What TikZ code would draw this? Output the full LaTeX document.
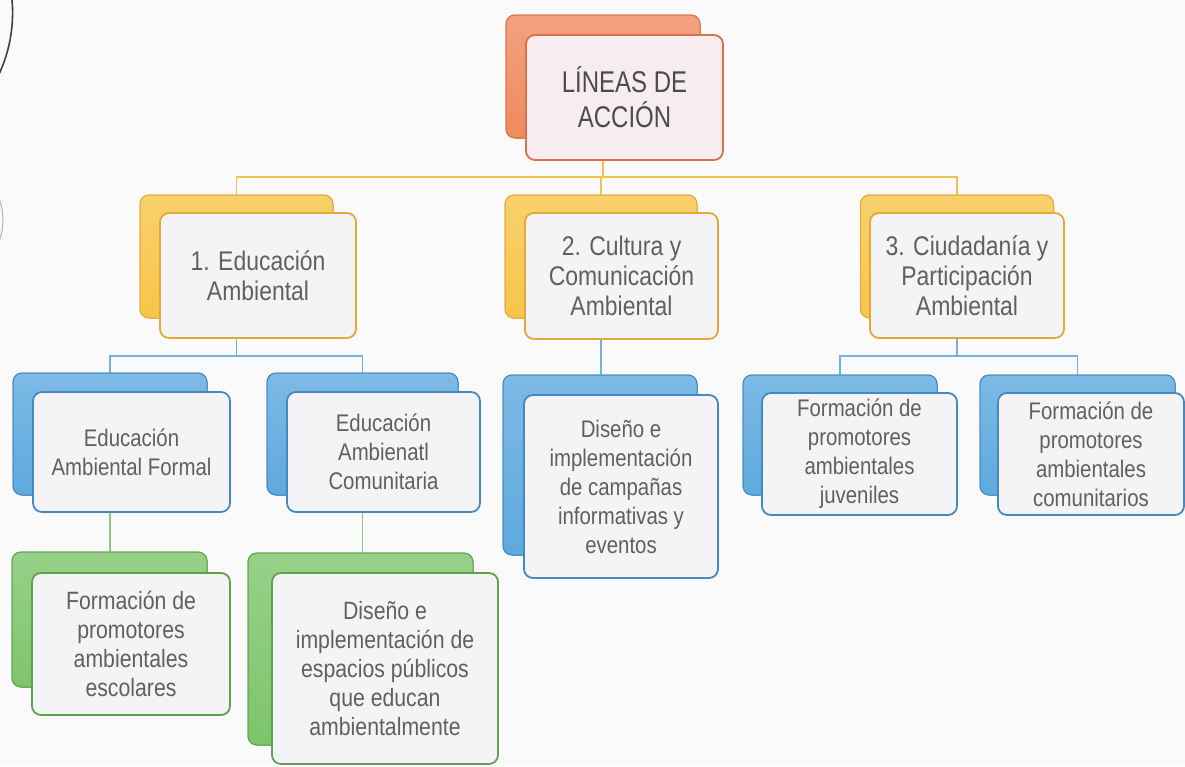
\documentclass[tikz,border=0pt]{standalone}
\usepackage{fontspec}
\setmainfont[FakeStretch=0.85]{Liberation Sans}
\definecolor{bgc}{HTML}{FAFAFA}
\definecolor{orB}{HTML}{F08A5D}
\definecolor{orD}{HTML}{D9714A}
\definecolor{yeB}{HTML}{F7C548}
\definecolor{yeD}{HTML}{E3A83A}
\definecolor{blB}{HTML}{5DA9DE}
\definecolor{blD}{HTML}{4589C0}
\definecolor{grB}{HTML}{7DC56B}
\definecolor{grD}{HTML}{5EA24E}
\definecolor{ffill}{HTML}{F4F4F7}
\definecolor{pfill}{HTML}{F7EDF0}
\definecolor{txt}{HTML}{606060}
\definecolor{conY}{HTML}{F3C352}
\definecolor{conB}{HTML}{72B3E0}
\definecolor{conG}{HTML}{8CC97A}
\tikzset{
  backbox/.style={rectangle, rounded corners=9pt, top color=#1B!80!white, bottom color=#1B, draw=#1D, line width=1pt, inner sep=0pt},
  frontbox/.style={rectangle, rounded corners=9pt, fill=ffill, draw=#1D, line width=1.8pt, inner sep=0pt, align=center, text=txt},
  sz/.style 2 args={minimum width=#1pt, minimum height=#2pt},
  conn/.style={draw=#1, line width=1.8pt},
  ttop/.style={font=\fontsize{30}{35}\selectfont\addfontfeature{FakeStretch=0.8}},
  tlv2/.style={font=\fontsize{27}{30}\selectfont},
  tlv3/.style={font=\fontsize{24}{29}\selectfont},
  tlv4/.style={font=\fontsize{25}{29}\selectfont},
}
\begin{document}
\begin{tikzpicture}[x=1pt,y=-1pt]
\fill[bgc] (0,0) rectangle (1185,766);
\useasboundingbox (0,0) rectangle (1185,766);
% scan marks at the left edge
\draw[black!75, line width=1.6pt] (-133,12.8) ++(-7:145.6) arc[start angle=-7, end angle=28, radius=145.6];
\draw[black!30, line width=1pt] (-57,220) ++(-25:60) arc[start angle=-25, end angle=25, radius=60];

% back boxes (placeholders for anchors)
\node[backbox=or, sz={194}{123}] (topb) at (603,76.5) {};
\node[backbox=ye, sz={193}{123}] (e1b) at (236.5,256.5) {};
\node[backbox=ye, sz={192}{123}] (e2b) at (601,256.5) {};
\node[backbox=ye, sz={193}{123}] (e3b) at (957,256.5) {};
\node[backbox=bl, sz={194}{122}] (f1b) at (110,434) {};
\node[backbox=bl, sz={191}{122}] (f2b) at (362.5,434) {};
\node[backbox=bl, sz={194}{180}] (c1b) at (600,465) {};
\node[backbox=bl, sz={194}{120}] (p1b) at (840,435) {};
\node[backbox=bl, sz={195}{120}] (p2b) at (1077.5,435) {};
\node[backbox=gr, sz={195}{135}] (g1b) at (109.5,619.5) {};
\node[backbox=gr, sz={225}{192}] (g2b) at (360.5,649) {};

% connectors
\coordinate (j1) at (0,177);
\coordinate (j2) at (0,356);
\draw[conn=conY] (topb.south) -- (topb.south |- j1);
\draw[conn=conY] (e1b.north) |- (e3b.north |- j1) -- (e3b.north);
\draw[conn=conY] (e2b.north) -- (e2b.north |- j1);
\draw[conn=conB] (e1b.south) -- (e1b.south |- j2);
\draw[conn=conB] (f1b.north) |- (f2b.north |- j2) -- (f2b.north);
\draw[conn=conB] (e2b.south) -- (e2b.south |- c1b.north);
\draw[conn=conB] (e3b.south) -- (e3b.south |- j2);
\draw[conn=conB] (p1b.north) |- (p2b.north |- j2) -- (p2b.north);
\draw[conn=conG] (f1b.south) -- (f1b.south |- g1b.north);
\draw[conn=conG] (f2b.south) -- (f2b.south |- g2b.north);

% back boxes drawn over the connectors
\node[backbox=or, sz={194}{123}] at (topb) {};
\node[backbox=ye, sz={193}{123}] at (e1b) {};
\node[backbox=ye, sz={192}{123}] at (e2b) {};
\node[backbox=ye, sz={193}{123}] at (e3b) {};
\node[backbox=bl, sz={194}{122}] at (f1b) {};
\node[backbox=bl, sz={191}{122}] at (f2b) {};
\node[backbox=bl, sz={194}{180}] at (c1b) {};
\node[backbox=bl, sz={194}{120}] at (p1b) {};
\node[backbox=bl, sz={195}{120}] at (p2b) {};
\node[backbox=gr, sz={195}{135}] at (g1b) {};
\node[backbox=gr, sz={225}{192}] at (g2b) {};

% front boxes
\node[frontbox=or, fill=pfill, sz={197}{125}, ttop, text=black!70] (topf) at (624.5,97.5) {LÍNEAS DE\\ACCIÓN};
\node[frontbox=ye, sz={196}{125}, tlv2] (e1f) at (258,275.5) {1. Educación\\Ambiental};
\node[frontbox=ye, sz={193}{126}, tlv2] (e2f) at (621.5,276) {2. Cultura y\\Comunicación\\Ambiental};
\node[frontbox=ye, sz={194}{125}, tlv2] (e3f) at (967,275.5) {3. Ciudadanía y\\Participación\\Ambiental};
\node[frontbox=bl, sz={197}{120}, tlv3] (f1f) at (131.5,452) {Educación\\Ambiental Formal};
\node[frontbox=bl, sz={193}{120}, tlv3] (f2f) at (383.5,452) {Educación\\Ambienatl\\Comunitaria};
\node[frontbox=bl, sz={194}{183}, tlv3] (c1f) at (621,486.5) {Diseño e\\implementación\\de campañas\\informativas y\\eventos};
\node[frontbox=bl, sz={195}{122}, tlv3] (p1f) at (859.5,454) {Formación de\\promotores\\ambientales\\juveniles};
\node[frontbox=bl, sz={186}{122}, tlv3] (p2f) at (1091,454) {Formación de\\promotores\\ambientales\\comunitarios};
\node[frontbox=gr, sz={198}{142}, tlv4] (g1f) at (131,644) {Formación de\\promotores\\ambientales\\escolares};
\node[frontbox=gr, sz={226}{191}, tlv4] (g2f) at (385,668.5) {Diseño e\\implementación de\\espacios públicos\\que educan\\ambientalmente};
\end{tikzpicture}
\end{document}
